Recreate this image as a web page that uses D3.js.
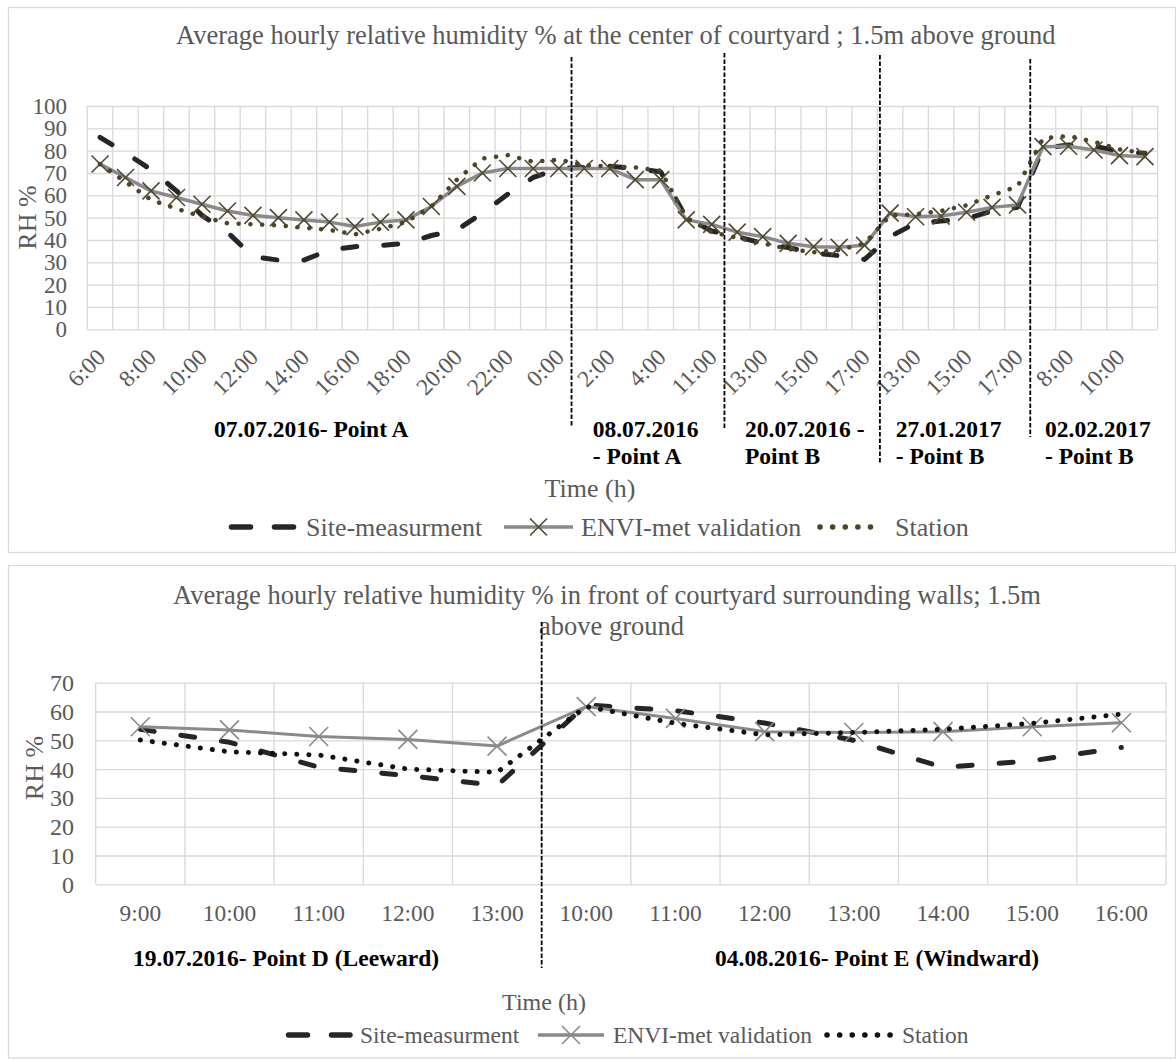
<!DOCTYPE html>
<html>
<head>
<meta charset="utf-8">
<script src="https://cdn.jsdelivr.net/npm/d3@7"></script>
<style>
  html, body { margin: 0; padding: 0; background: #fff; }
  svg { display: block; font-family: "Liberation Serif", "Times New Roman", serif; }
</style>
</head>
<body>
<svg id="chart" width="1176" height="1061"></svg>
<script>
// ---------- data: centre of courtyard ----------
const topCategories = [
  "6:00","7:00","8:00","9:00","10:00","11:00","12:00","13:00","14:00","15:00",
  "16:00","17:00","18:00","19:00","20:00","21:00","22:00","23:00","0:00",
  "1:00","2:00","3:00","4:00",
  "10:00","11:00","12:00","13:00","14:00","15:00","16:00","17:00",
  "12:00","13:00","14:00","15:00","16:00","17:00",
  "7:00","8:00","9:00","10:00","11:00"
];
const topSite = [
  86,79,71.5,62,51,43.5,32.5,31,31,35.5,37,37.5,38.5,42,44.5,52,60.5,68,72,
  72.5,73,72,70.5,
  50,44,41.5,38.5,36.6,34.2,33,31.3,
  41.5,47.5,48.5,49.5,53,54.6,
  81,82.5,82,79.6,78.8
];
const topEnvi = [
  74,68,62,59,56,53,51,50,49,48,46,48,49,55,64,70,72,72,72,
  72,72,67,67,
  49,47,43.5,41.5,38.5,37,36.7,37.6,
  52,50.4,50.7,52.4,54.6,55.7,
  81.8,82,80.3,77.8,77.3
];
const topStation = [
  74,66,58,54,50.5,47.5,47,46.5,45.5,44.5,42.5,45,48,55,67,76.5,78,75,76,
  73.5,73,72.5,71,
  50,43.5,41,38.5,36,34.5,35.5,38.5,
  51,51.5,53,55.5,60,64,
  85.5,86.6,84,80.6,78.8
];
const topYTicks = [0,10,20,30,40,50,60,70,80,90,100];
const topDividers = [19, 25, 31.1, 37];          // category boundaries between days
const topGroupLabels = [
  ["07.07.2016- Point A"],
  ["08.07.2016", "- Point A"],
  ["20.07.2016 -", "Point B"],
  ["27.01.2017", "- Point B"],
  ["02.02.2017", "- Point B"]
];

// ---------- data: in front of surrounding walls ----------
const bottomCategories = ["9:00","10:00","11:00","12:00","13:00","10:00","11:00","12:00","13:00","14:00","15:00","16:00"];
const bottomSite    = [53.8,49.3,40.7,37.7,34.3,62.3,60.3,56,50,40.6,42.9,47.5];
const bottomEnvi    = [54.7,53.6,51.3,50.3,48,61.7,57.6,53,52.7,53,54.7,56.1];
const bottomStation = [50.1,46,44.9,40,38.9,61.7,55.9,51.9,52.7,53.8,55.9,59.1];
const bottomYTicks = [0,10,20,30,40,50,60,70];
const bottomDividers = [5];
const bottomGroupLabels = ["19.07.2016- Point D (Leeward)", "04.08.2016- Point E (Windward)"];

const seriesNames = ["Site-measurment", "ENVI-met validation", "Station"];

// ---------- styling ----------
const SERIF = '"Liberation Serif", "Times New Roman", serif';
const GRID = "#d9d9d9";
const TXT = "#595959";
const SITE_COL = "#262626";
const ENVI_COL = "#8a8a8a";

const svg = d3.select("#chart").attr("font-family", SERIF);

// chart frames
svg.append("rect").attr("x", 8.5).attr("y", 7.5).attr("width", 1167).attr("height", 545)
  .attr("fill", "#fff").attr("stroke", GRID).attr("stroke-width", 1.3);
svg.append("rect").attr("x", 8.5).attr("y", 565.5).attr("width", 1167).attr("height", 492.5)
  .attr("fill", "#fff").attr("stroke", GRID).attr("stroke-width", 1.3);

const xMark = s => `M${-s},${-s}L${s},${s}M${-s},${s}L${s},${-s}`;

function drawPanel(o) {
  const g = svg.append("g");
  const x = d3.scaleBand().domain(d3.range(o.cats.length)).range(o.xRange).paddingInner(0).paddingOuter(0);
  const y = d3.scaleLinear().domain(o.yDomain).range(o.yRange);
  const [x0, x1] = x.range();
  const cx = i => x(i) + x.bandwidth() / 2;

  // horizontal gridlines + value labels
  const yAxis = g.append("g").attr("transform", `translate(${x0},0)`)
    .call(d3.axisLeft(y).tickValues(o.yTicks).tickSize(-(x1 - x0)).tickPadding(o.yPad))
    .attr("font-family", SERIF).attr("font-size", null);
  yAxis.select(".domain").remove();
  yAxis.selectAll(".tick line").attr("stroke", GRID).attr("stroke-width", 1.3);
  yAxis.selectAll(".tick text").attr("fill", TXT).attr("font-family", SERIF)
    .style("font-size", o.yFont + "px").attr("dy", "0.33em");

  // vertical gridlines on category boundaries
  g.append("g").selectAll("line").data(d3.range(o.cats.length + 1)).join("line")
    .attr("x1", i => x0 + i * x.step()).attr("x2", i => x0 + i * x.step())
    .attr("y1", y(o.yDomain[0])).attr("y2", y(o.yDomain[1]))
    .attr("stroke", GRID).attr("stroke-width", 1.3);

  // category labels
  const xAxis = g.append("g").attr("transform", `translate(0,${y(o.yDomain[0])})`)
    .call(d3.axisBottom(x).tickValues(o.tickIdx).tickFormat(i => o.cats[i]).tickSize(0))
    .attr("font-family", SERIF).attr("font-size", null);
  xAxis.select(".domain").remove();
  const xt = xAxis.selectAll(".tick text").attr("fill", TXT).attr("font-family", SERIF)
    .style("font-size", o.xFont + "px")
    .attr("y", 0).attr("dy", null).attr("dominant-baseline", "central");
  if (o.rotate) {
    xt.attr("text-anchor", "end").attr("transform", `translate(1,${o.xLabelOff}) rotate(-45)`);
  } else {
    xt.attr("transform", `translate(0,${o.xLabelOff})`);
  }

  const line = d3.line().x((d, i) => cx(i)).y(d => y(d));

  // site measurement: long dashes
  g.append("path").datum(o.site).attr("d", line).attr("fill", "none")
    .attr("stroke", SITE_COL).attr("stroke-width", 5).attr("stroke-linecap", "round")
    .attr("stroke-linejoin", "round").attr("stroke-dasharray", "14,27");

  // ENVI-met: grey line with X markers
  g.append("path").datum(o.envi).attr("d", line).attr("fill", "none")
    .attr("stroke", ENVI_COL).attr("stroke-width", o.enviWidth).attr("stroke-linejoin", "round");
  g.append("g").selectAll("path").data(o.envi).join("path")
    .attr("transform", (d, i) => `translate(${cx(i)},${y(d)})`)
    .attr("d", xMark(o.markSize)).attr("fill", "none")
    .attr("stroke", o.markColor).attr("stroke-width", 1.6);

  // weather station: round dots
  g.append("path").datum(o.station).attr("d", line).attr("fill", "none")
    .attr("stroke", o.stationColor).attr("stroke-width", o.dotWidth).attr("stroke-linecap", "round")
    .attr("stroke-linejoin", "round").attr("stroke-dasharray", `0.1,${o.dotGap}`);

  return { x, y, x0 };
}

// legend row
function legend(o) {
  const g = svg.append("g");
  const yy = o.y;
  g.append("line").attr("x1", o.site[0] + 2.5).attr("x2", o.site[1]).attr("y1", yy).attr("y2", yy)
    .attr("stroke", SITE_COL).attr("stroke-width", 5.5).attr("stroke-linecap", "round")
    .attr("stroke-dasharray", "19,24");
  g.append("line").attr("x1", o.envi[0]).attr("x2", o.envi[1]).attr("y1", yy).attr("y2", yy)
    .attr("stroke", ENVI_COL).attr("stroke-width", 3.5);
  g.append("path").attr("transform", `translate(${(o.envi[0] + o.envi[1]) / 2},${yy})`)
    .attr("d", xMark(o.markSize)).attr("fill", "none").attr("stroke", o.markColor).attr("stroke-width", 1.6);
  g.append("line").attr("x1", o.station[0]).attr("x2", o.station[1]).attr("y1", yy).attr("y2", yy)
    .attr("stroke", o.stationColor).attr("stroke-width", o.dotWidth).attr("stroke-linecap", "round")
    .attr("stroke-dasharray", `0.1,${o.dotGap}`);
  seriesNames.forEach((n, i) => {
    g.append("text").attr("x", o.textX[i]).attr("y", yy).attr("dominant-baseline", "central")
      .attr("font-family", SERIF).attr("fill", TXT).style("font-size", o.font + "px").text(n);
  });
}

// ================= upper chart =================
svg.append("text").attr("x", 176).attr("y", 44).attr("fill", TXT).style("font-size", "26.5px")
  .text("Average hourly relative humidity % at the center of courtyard ; 1.5m above ground");

const upper = drawPanel({
  cats: topCategories, site: topSite, envi: topEnvi, station: topStation,
  xRange: [87.3, 1157.7], yDomain: [0, 100], yRange: [329.3, 106], yTicks: topYTicks,
  yPad: 20.3, yFont: 23, xFont: 23.5, rotate: true, xLabelOff: 23.7,
  tickIdx: d3.range(0, topCategories.length, 2),
  enviWidth: 3.5, markSize: 8.5, markColor: "#4f4a30",
  stationColor: "#4d4427", dotWidth: 4.5, dotGap: 11.7
});

svg.append("text").attr("transform", "translate(27,217.5) rotate(-90)")
  .attr("text-anchor", "middle").attr("dominant-baseline", "central")
  .attr("fill", TXT).style("font-size", "26px").text("RH %");

// day separators
const topSepSpan = [[57, 427], [53, 428], [55, 463], [59, 437]];
topDividers.forEach((b, k) => {
  const xx = upper.x0 + b * upper.x.step();
  svg.append("line").attr("x1", xx).attr("x2", xx)
    .attr("y1", topSepSpan[k][0]).attr("y2", topSepSpan[k][1])
    .attr("stroke", "#000").attr("stroke-width", 1.8).attr("stroke-dasharray", "4.5,2");
});

// day / location labels
const topLabelX = [214, 592.7, 745, 895.7, 1045];
topGroupLabels.forEach((lines, k) => {
  lines.forEach((t, j) => {
    svg.append("text").attr("x", topLabelX[k]).attr("y", 429 + j * 27)
      .attr("dominant-baseline", "central").attr("font-weight", "bold")
      .attr("fill", "#000").style("font-size", "23.5px").text(t);
  });
});

svg.append("text").attr("x", 590).attr("y", 488).attr("text-anchor", "middle")
  .attr("dominant-baseline", "central").attr("fill", TXT).style("font-size", "26px").text("Time (h)");

legend({
  y: 527, site: [229, 296], envi: [504, 573], station: [820, 883],
  textX: [306, 581, 895], font: 26, markSize: 8.5, markColor: "#4f4a30",
  stationColor: "#4d4427", dotWidth: 5.5, dotGap: 12.5
});

// ================= lower chart =================
svg.append("text").attr("x", 173).attr("y", 604).attr("fill", TXT).style("font-size", "26.5px")
  .text("Average hourly relative humidity % in front of courtyard surrounding walls; 1.5m");
svg.append("text").attr("x", 539).attr("y", 635).attr("fill", TXT).style("font-size", "26.5px")
  .text("above ground");

const lower = drawPanel({
  cats: bottomCategories, site: bottomSite, envi: bottomEnvi, station: bottomStation,
  xRange: [95.7, 1166], yDomain: [0, 70], yRange: [884.3, 682.7], yTicks: bottomYTicks,
  yPad: 21.7, yFont: 24, xFont: 23.4, rotate: false, xLabelOff: 29,
  tickIdx: d3.range(bottomCategories.length),
  enviWidth: 3, markSize: 9.5, markColor: "#8a8a8a",
  stationColor: "#111", dotWidth: 5, dotGap: 12
});

svg.append("text").attr("transform", "translate(34,768) rotate(-90)")
  .attr("text-anchor", "middle").attr("dominant-baseline", "central")
  .attr("fill", TXT).style("font-size", "26px").text("RH %");

bottomDividers.forEach(b => {
  const xx = lower.x0 + b * lower.x.step();
  svg.append("line").attr("x1", xx).attr("x2", xx).attr("y1", 622).attr("y2", 968)
    .attr("stroke", "#000").attr("stroke-width", 1.8).attr("stroke-dasharray", "4.5,2");
});

const botLabelX = [133, 715];
bottomGroupLabels.forEach((t, k) => {
  svg.append("text").attr("x", botLabelX[k]).attr("y", 958).attr("dominant-baseline", "central")
    .attr("font-weight", "bold").attr("fill", "#000").style("font-size", "23.5px").text(t);
});

svg.append("text").attr("x", 544).attr("y", 1002).attr("text-anchor", "middle")
  .attr("dominant-baseline", "central").attr("fill", TXT).style("font-size", "24px").text("Time (h)");

legend({
  y: 1035, site: [286, 350], envi: [538, 604], station: [827, 891],
  textX: [360, 613, 902], font: 23.5, markSize: 9, markColor: "#8a8a8a",
  stationColor: "#111", dotWidth: 5.5, dotGap: 12.5
});
</script>
</body>
</html>
